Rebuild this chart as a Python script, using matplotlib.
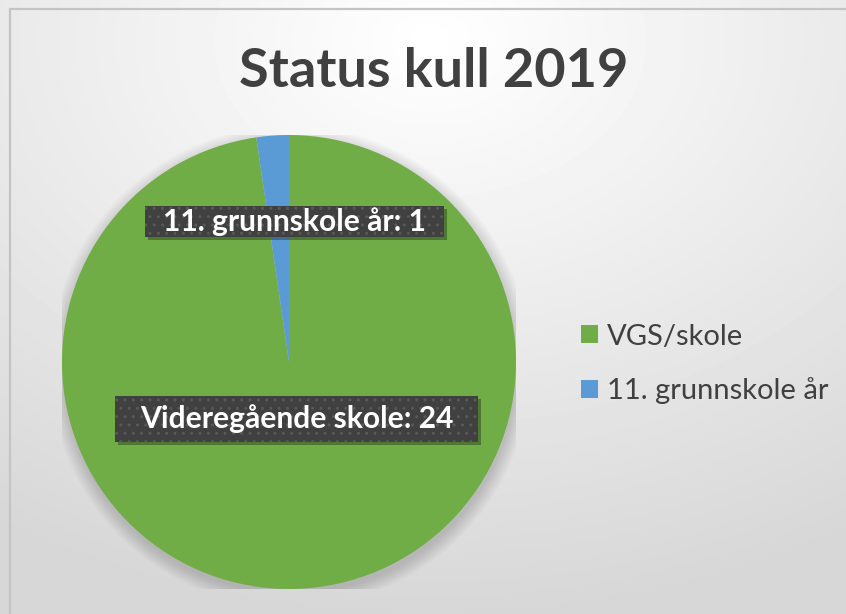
import numpy as np
import matplotlib.pyplot as plt
from matplotlib.patches import Patch, Rectangle, Circle

# chart data
title = 'Status kull 2019'
categories = ['VGS/skole', '11. grunnskole år']
label_names = ['Videregående skole', '11. grunnskole år']
counts = [24, 1]
# wedge shares (%) as drawn in the picture
shares = [97.7, 2.3]
colors = ['#70AD47', '#5B9BD5']

W, H = 846, 614
plt.rcParams['font.family'] = ['Lato', 'DejaVu Sans']
fig = plt.figure(figsize=(W / 100, H / 100), dpi=100)

# soft grey background gradient
bg = fig.add_axes([0, 0, 1, 1], zorder=-10)
yy, xx = np.mgrid[0:H, 0:W]
d = np.hypot((xx - 430) / W, (yy - 40) / H)
shade = 1.0 - 0.16 * np.clip(d / 0.95, 0, 1)
bg.imshow(shade, cmap='gray', vmin=0, vmax=1, aspect='auto', extent=[0, W, H, 0])
bg.set_axis_off()

# frame line (cut at the right and bottom edge)
fig.patches.append(Rectangle((10 / W, -0.1), 1.2, 1.1 - 9 / H, transform=fig.transFigure,
                             fill=False, edgecolor='#c4c4c4', linewidth=1.6))

# pie
ax = fig.add_axes([62 / W, 25 / H, 454 / W, 454 / H])
for r in np.linspace(1.06, 1.0, 10):
    ax.add_patch(Circle((0.005, -0.02), r, facecolor='k', edgecolor='none', alpha=0.016))
ax.pie(shares, colors=colors, startangle=90, counterclock=False,
       wedgeprops=dict(linewidth=0))
ax.set_xlim(-1, 1)
ax.set_ylim(-1, 1)
ax.set_axis_off()

# title
fig.text(434 / W, 1 - 87 / H, title, ha='center', va='baseline', fontsize=39,
         fontweight='bold', color='#404040')

# data labels with dark dotted boxes
label_pos = [(0.033, -0.251), (0.024, 0.619)]
box_pad = [(25, 46), (18, 31)]
labels = []
for name, n, (x, y) in zip(label_names, counts, label_pos):
    t = fig.text(x, y, f'{name}: {n}', transform=ax.transData, ha='center', va='center',
                 fontsize=21.6, fontweight='bold', color='white')
    labels.append(t)

fig.canvas.draw()
renderer = fig.canvas.get_renderer()
for t, (x, y), (padx, bh) in zip(labels, label_pos, box_pad):
    bb = t.get_window_extent(renderer)
    cx, cy = ax.transData.transform((x, y))
    bw = bb.width + 2 * padx
    x0, y0 = cx - bw / 2, cy - bh / 2
    fig.patches.append(Rectangle(((x0 + 3) / W, (y0 - 3) / H), bw / W, bh / H,
                                 transform=fig.transFigure, facecolor='k',
                                 edgecolor='none', alpha=0.3))
    fig.patches.append(Rectangle((x0 / W, y0 / H), bw / W, bh / H,
                                 transform=fig.transFigure, facecolor='#404040',
                                 edgecolor='#585858', linewidth=0, hatch='..'))

# legend
handles = [Patch(facecolor=c, edgecolor='none') for c in colors]
fig.legend(handles, categories, loc='center left', bbox_to_anchor=(581 / W, 1 - 364 / H),
           frameon=False, fontsize=21, handlelength=0.58, handleheight=0.58,
           handletextpad=0.3, labelspacing=0.95, borderpad=0, borderaxespad=0,
           labelcolor='#404040')

fig.savefig('out.png', dpi=100)
